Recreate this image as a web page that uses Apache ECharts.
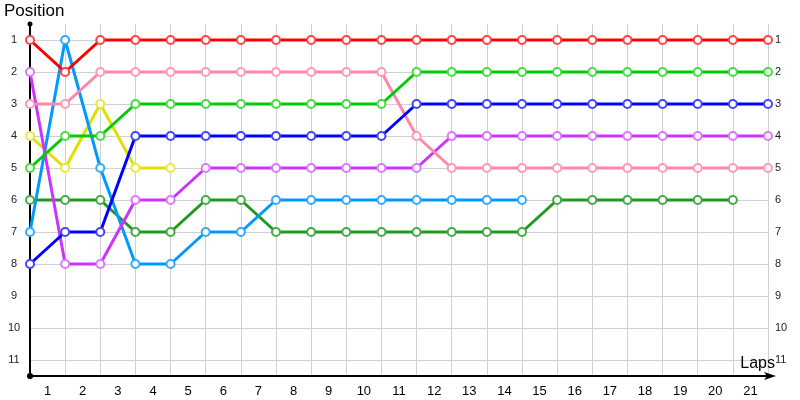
<!DOCTYPE html>
<html>
<head>
<meta charset="utf-8">
<script src="https://cdn.jsdelivr.net/npm/echarts@6/dist/echarts.min.js"></script>
<style>html,body{margin:0;padding:0;background:#fff}#c{width:800px;height:400px}</style>
</head>
<body>
<div id="c"></div>
<script>
const lapLabels = ['1','2','3','4','5','6','7','8','9','10','11','12','13','14','15','16','17','18','19','20','21'];
const positionTicks = [1,2,3,4,5,6,7,8,9,10,11];
const red       = [1,2,1,1,1,1,1,1,1,1,1,1,1,1,1,1,1,1,1,1,1,1];
const pink      = [3,3,2,2,2,2,2,2,2,2,2,4,5,5,5,5,5,5,5,5,5,5];
const green     = [5,4,4,3,3,3,3,3,3,3,3,2,2,2,2,2,2,2,2,2,2,2];
const blue      = [8,7,7,4,4,4,4,4,4,4,4,3,3,3,3,3,3,3,3,3,3,3];
const purple    = [2,8,8,6,6,5,5,5,5,5,5,5,4,4,4,4,4,4,4,4,4,4];
const yellow    = [4,5,3,5,5];
const darkGreen = [6,6,6,7,7,6,6,7,7,7,7,7,7,7,7,6,6,6,6,6,6];
const lightBlue = [7,1,5,8,8,7,7,6,6,6,6,6,6,6,6];

const seriesDefs = [
  {name:'Yellow', data:yellow, line:'#e0e000', mark:'#e8e840'},
  {name:'DarkGreen', data:darkGreen, line:'#229922', mark:'#44aa44'},
  {name:'LightBlue', data:lightBlue, line:'#0099ff', mark:'#33aaff'},
  {name:'Purple', data:purple, line:'#cc33ff', mark:'#dd77ff'},
  {name:'Pink', data:pink, line:'#ff88aa', mark:'#ff99bb'},
  {name:'Blue', data:blue, line:'#0000ff', mark:'#4444ff'},
  {name:'Green', data:green, line:'#00cc00', mark:'#44dd44'},
  {name:'Red', data:red, line:'#ff0000', mark:'#ff4444'}
];

const chart = echarts.init(document.getElementById('c'), null, {renderer:'canvas'});
const labelFont = 'Liberation Sans';
const yCommon = {
  type:'value', min:0.5, max:11.5, inverse:true,
  axisTick:{show:false, customValues:positionTicks},
};
chart.setOption({
  animation:false,
  grid:{left:30, right:32, top:24, bottom:24, containLabel:false, outerBoundsMode:'none'},
  xAxis:[
    {type:'value', min:0, max:21, interval:1,
     axisLine:{show:true, onZero:false, lineStyle:{color:'#000', width:2}, symbol:['circle','arrow'], symbolSize:[6,12], symbolOffset:[0,8]},
     axisTick:{show:false}, axisLabel:{show:false},
     splitLine:{show:true, lineStyle:{color:'#d0d0d0', width:1}},
     name:'Laps', nameLocation:'end', nameGap:7, nameMoveOverlap:false,
     nameTextStyle:{fontFamily:labelFont, fontSize:16, color:'#000', align:'right', verticalAlign:'bottom', padding:[0,0,4,0]}
    },
    {type:'category', data:lapLabels, boundaryGap:true, position:'bottom',
     axisLine:{show:false}, axisTick:{show:false}, splitLine:{show:false},
     axisLabel:{fontFamily:labelFont, fontSize:13, color:'#000', margin:9}
    }
  ],
  yAxis:[
    Object.assign({}, yCommon, {
      position:'left',
      axisLine:{show:true, onZero:false, lineStyle:{color:'#000', width:2}, symbol:['circle','circle'], symbolSize:[5,5]},
      axisLabel:{customValues:positionTicks, fontFamily:labelFont, fontSize:11, color:'#222', margin:16, align:'center'},
      splitLine:{show:true, lineStyle:{color:'#d0d0d0', width:1}},
      name:'Position', nameLocation:'start', nameGap:4, nameMoveOverlap:false,
      nameTextStyle:{fontFamily:labelFont, fontSize:17, color:'#000', align:'left', verticalAlign:'bottom', padding:[0,0,0,-26]}
    }),
    Object.assign({}, yCommon, {
      position:'right',
      axisLine:{show:false},
      axisLabel:{customValues:positionTicks, fontFamily:labelFont, fontSize:11, color:'#222', margin:7},
      splitLine:{show:false}
    })
  ],
  series: seriesDefs.map(s => ({
    name:s.name, type:'line', xAxisIndex:0, yAxisIndex:0,
    data:s.data.map((v,i)=>[i,v]),
    symbol:'emptyCircle', symbolSize:8, showAllSymbol:true,
    lineStyle:{color:s.line, width:3},
    itemStyle:{color:s.mark, borderWidth:1},
    emphasis:{disabled:true}
  }))
});
</script>
</body>
</html>
